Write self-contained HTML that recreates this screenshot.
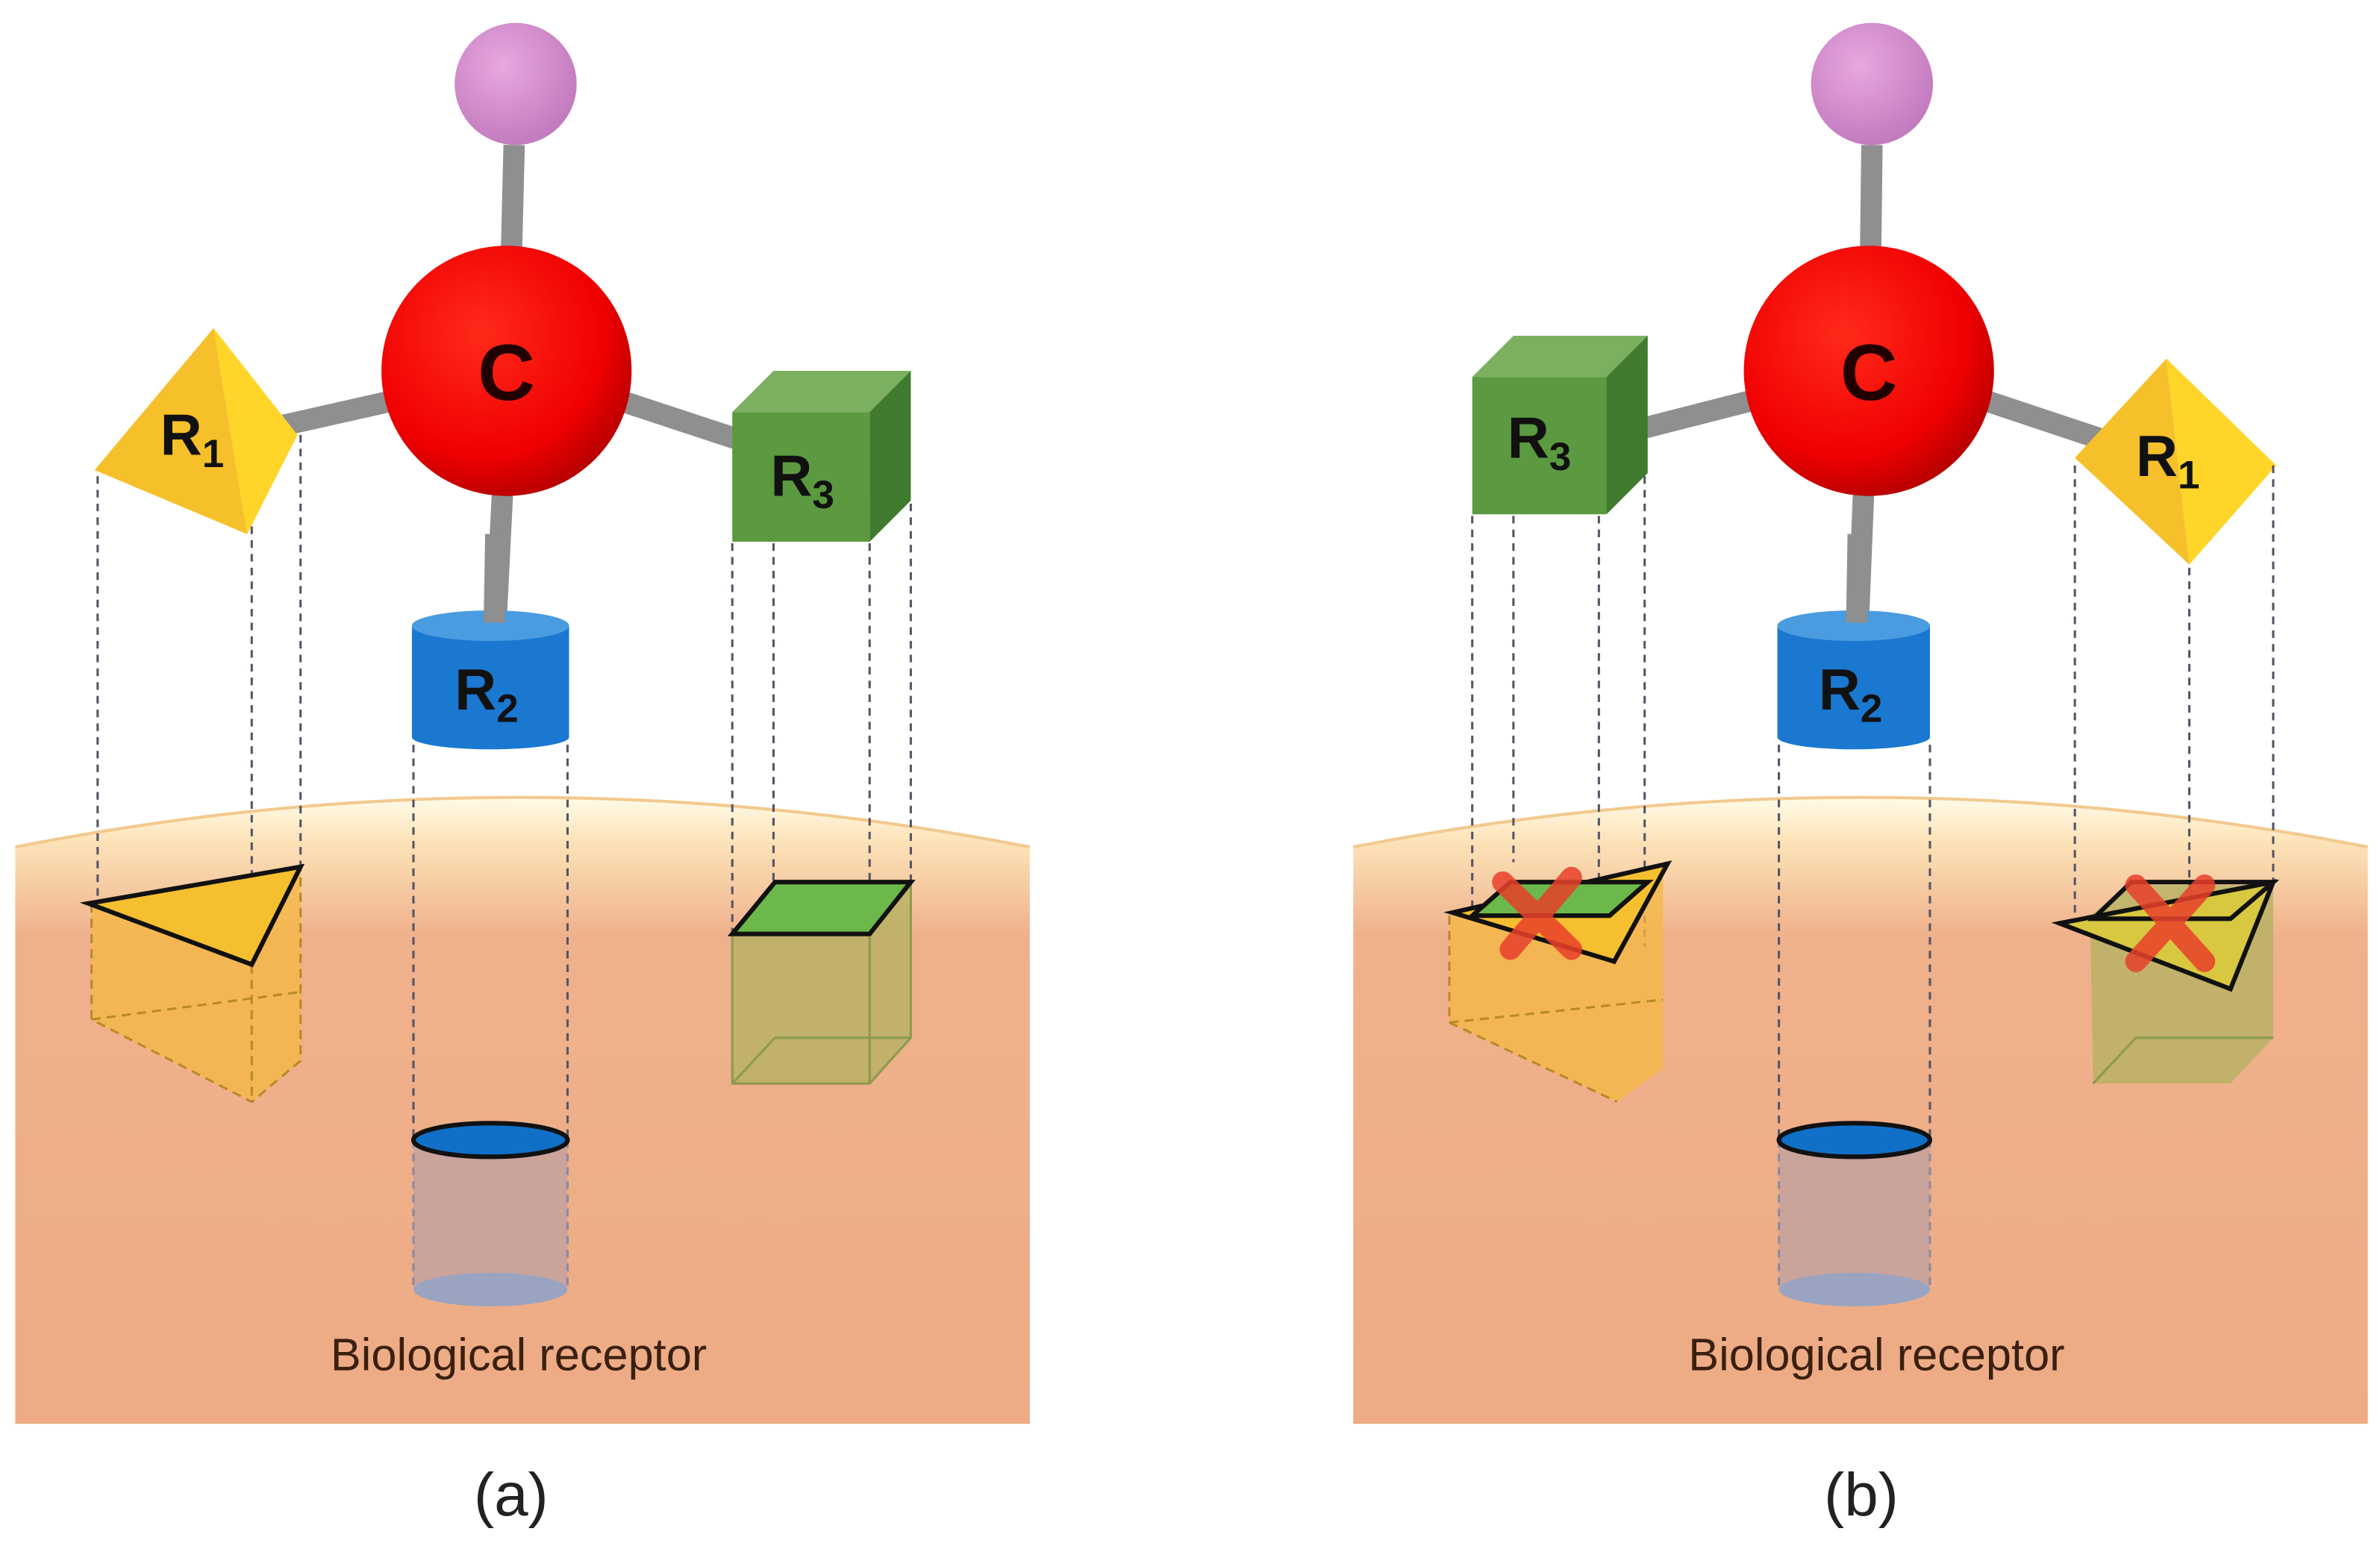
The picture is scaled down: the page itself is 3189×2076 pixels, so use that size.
<!DOCTYPE html>
<html><head><meta charset="utf-8"><style>
html,body{margin:0;padding:0;background:#fff}
svg{display:block}
text{font-family:"Liberation Sans",sans-serif}
</style></head><body>
<svg width="3189" height="2076" viewBox="0 0 1560 1015" preserveAspectRatio="none">
<defs>
<linearGradient id="rec" x1="0" y1="0" x2="0" y2="1">
<stop offset="0" stop-color="#fffbe8"/><stop offset="0.07" stop-color="#fde3b8"/><stop offset="0.22" stop-color="#efb18c"/><stop offset="1" stop-color="#eeab85"/></linearGradient>
<radialGradient id="cb" cx="0.4" cy="0.35" r="0.7"><stop offset="0" stop-color="#ff2a1a"/><stop offset="0.7" stop-color="#f00000"/><stop offset="1" stop-color="#b00000"/></radialGradient>
<radialGradient id="pb" cx="0.4" cy="0.35" r="0.7"><stop offset="0" stop-color="#e8a8e0"/><stop offset="1" stop-color="#c078bc"/></radialGradient>
</defs>

<!-- PANEL A -->
<path d="M10,555 Q340,490 675,555 L675,933 L10,933 Z" fill="url(#rec)"/>
<path d="M10,555 Q340,490 675,555" fill="none" stroke="#f3c98e" stroke-width="2"/>
<g stroke="#8f8f8f" stroke-width="14">
<line x1="337" y1="95" x2="335" y2="175"/>
<line x1="180" y1="280" x2="260" y2="262"/>
<line x1="405" y1="262" x2="490" y2="290"/>
<line x1="330" y1="310" x2="325" y2="410"/>
</g>
<circle cx="338" cy="55" r="40" fill="url(#pb)"/>
<circle cx="332" cy="243" r="82" fill="url(#cb)"/>
<text x="332" y="262" font-size="52" text-anchor="middle" fill="#200" font-weight="bold">C</text>
<polygon points="62,308 140,215 162,350" fill="#f6c02a"/>
<polygon points="140,215 195,285 162,350" fill="#ffd52a"/>
<text x="105" y="298" font-size="38" fill="#111" font-weight="bold">R<tspan font-size="26" dy="8">1</tspan></text>
<polygon points="480,270 507,243 597,243 570,270" fill="#7ab060"/>
<polygon points="570,270 597,243 597,328 570,355" fill="#3f7a2e"/>
<rect x="480" y="270" width="90" height="85" fill="#5b9a40"/>
<text x="505" y="325" font-size="38" fill="#111" font-weight="bold">R<tspan font-size="26" dy="8">3</tspan></text>
<rect x="270" y="410" width="103" height="73" fill="#1a78d0"/>
<ellipse cx="321.5" cy="483" rx="51.5" ry="8" fill="#1a78d0"/>
<ellipse cx="321.5" cy="410" rx="51.5" ry="10" fill="#4a9be0"/>
<line x1="325" y1="350" x2="324" y2="408" stroke="#8f8f8f" stroke-width="14"/>
<text x="298" y="465" font-size="38" fill="#111" font-weight="bold">R<tspan font-size="26" dy="8">2</tspan></text>
<g stroke="#556" stroke-width="1.5" stroke-dasharray="5,4" fill="none">
<line x1="64" y1="312" x2="64" y2="592"/><line x1="165" y1="345" x2="165" y2="632"/><line x1="197" y1="285" x2="197" y2="568"/>
<line x1="271" y1="488" x2="271" y2="747"/><line x1="372" y1="488" x2="372" y2="747"/>
<line x1="480" y1="356" x2="480" y2="612"/><line x1="507" y1="356" x2="507" y2="578"/><line x1="570" y1="356" x2="570" y2="612"/><line x1="597" y1="330" x2="597" y2="578"/>
</g>
<polygon points="60,592 197,568 197,695 165,722 60,668" fill="#f5b840" opacity="0.75"/>
<g stroke="#b8892a" stroke-width="1.5" stroke-dasharray="6,4" fill="none">
<polyline points="60,592 60,668 165,722 197,695 197,568"/><line x1="165" y1="632" x2="165" y2="722"/><line x1="60" y1="668" x2="197" y2="650"/>
</g>
<polygon points="58,592 197,568 165,632" fill="#f6bf30" stroke="#111" stroke-width="3"/>
<polygon points="480,612 508,578 597,578 597,680 570,710 480,710" fill="#b5b262" opacity="0.8"/>
<g stroke="#8c9a50" stroke-width="1.5" fill="none">
<polyline points="480,612 480,710 570,710 597,680 597,578"/><polyline points="480,710 508,680 597,680"/><line x1="570" y1="612" x2="570" y2="710"/>
</g>
<polygon points="480,612 508,578 597,578 570,612" fill="#6cb84a" stroke="#111" stroke-width="3"/>
<rect x="271" y="747" width="101" height="98" fill="#c0a0a0" opacity="0.8"/>
<ellipse cx="321.5" cy="845" rx="50.5" ry="11" fill="#9aa4c0"/>
<g stroke="#8a8aa0" stroke-width="1.5" stroke-dasharray="5,4" fill="none"><line x1="271" y1="747" x2="271" y2="845"/><line x1="372" y1="747" x2="372" y2="845"/></g>
<ellipse cx="321.5" cy="747" rx="50.5" ry="11" fill="#1070c8" stroke="#111" stroke-width="3"/>
<text x="340" y="898" font-size="30" text-anchor="middle" fill="#3a2010">Biological receptor</text>
<text x="335" y="993" font-size="40" text-anchor="middle" fill="#222">(a)</text>

<!-- PANEL B -->
<path d="M887,555 Q1220,490 1552,555 L1552,933 L887,933 Z" fill="url(#rec)"/>
<path d="M887,555 Q1220,490 1552,555" fill="none" stroke="#f3c98e" stroke-width="2"/>
<g stroke="#8f8f8f" stroke-width="14">
<line x1="1227" y1="95" x2="1226" y2="175"/>
<line x1="1060" y1="285" x2="1150" y2="262"/>
<line x1="1300" y1="262" x2="1390" y2="292"/>
<line x1="1222" y1="310" x2="1218" y2="410"/>
</g>
<circle cx="1227" cy="55" r="40" fill="url(#pb)"/>
<circle cx="1225" cy="243" r="82" fill="url(#cb)"/>
<text x="1225" y="262" font-size="52" text-anchor="middle" fill="#200" font-weight="bold">C</text>
<polygon points="965,247 992,220 1080,220 1053,247" fill="#7ab060"/>
<polygon points="1053,247 1080,220 1080,310 1053,337" fill="#3f7a2e"/>
<rect x="965" y="247" width="88" height="90" fill="#5b9a40"/>
<text x="988" y="300" font-size="38" fill="#111" font-weight="bold">R<tspan font-size="26" dy="8">3</tspan></text>
<polygon points="1360,300 1420,235 1435,370" fill="#f6c02a"/>
<polygon points="1420,235 1492,305 1435,370" fill="#ffd52a"/>
<text x="1400" y="312" font-size="38" fill="#111" font-weight="bold">R<tspan font-size="26" dy="8">1</tspan></text>
<rect x="1165" y="410" width="100" height="73" fill="#1a78d0"/>
<ellipse cx="1215" cy="483" rx="50" ry="8" fill="#1a78d0"/>
<ellipse cx="1215" cy="410" rx="50" ry="10" fill="#4a9be0"/>
<line x1="1218" y1="350" x2="1217" y2="408" stroke="#8f8f8f" stroke-width="14"/>
<text x="1192" y="465" font-size="38" fill="#111" font-weight="bold">R<tspan font-size="26" dy="8">2</tspan></text>
<g stroke="#556" stroke-width="1.5" stroke-dasharray="5,4" fill="none">
<line x1="965" y1="338" x2="965" y2="600"/><line x1="992" y1="338" x2="992" y2="565"/><line x1="1048" y1="338" x2="1048" y2="610"/><line x1="1078" y1="312" x2="1078" y2="620"/>
<line x1="1166" y1="488" x2="1166" y2="747"/><line x1="1265" y1="488" x2="1265" y2="747"/>
<line x1="1360" y1="305" x2="1360" y2="600"/><line x1="1435" y1="372" x2="1435" y2="640"/><line x1="1490" y1="305" x2="1490" y2="580"/>
</g>
<polygon points="950,600 1090,568 1090,700 1060,722 950,670" fill="#f5b840" opacity="0.75"/>
<g stroke="#b8892a" stroke-width="1.5" stroke-dasharray="6,4" fill="none"><polyline points="950,600 950,670 1060,722"/><line x1="950" y1="670" x2="1090" y2="655"/></g>
<polygon points="952,598 1093,566 1058,630" fill="#f6bf30" stroke="#111" stroke-width="3"/>
<polygon points="965,600 990,578 1080,578 1055,600" fill="#6cb84a" stroke="#111" stroke-width="3"/>
<g stroke="#e8402a" stroke-width="14" opacity="0.85" stroke-linecap="round"><line x1="985" y1="578" x2="1030" y2="622"/><line x1="1030" y1="575" x2="990" y2="622"/></g>
<polygon points="1370,600 1395,580 1490,580 1490,680 1462,710 1372,710" fill="#b5b262" opacity="0.8"/>
<g stroke="#8c9a50" stroke-width="1.5" fill="none"><polyline points="1372,710 1400,680 1490,680"/></g>
<polygon points="1350,605 1490,578 1462,648" fill="#d8c840" stroke="#111" stroke-width="3"/>
<polygon points="1372,602 1397,578 1490,578 1462,602" fill="none" stroke="#111" stroke-width="3"/>
<g stroke="#e8402a" stroke-width="14" opacity="0.85" stroke-linecap="round"><line x1="1400" y1="580" x2="1445" y2="630"/><line x1="1445" y1="580" x2="1400" y2="630"/></g>
<rect x="1166" y="747" width="99" height="98" fill="#c0a0a0" opacity="0.8"/>
<ellipse cx="1215.5" cy="845" rx="49.5" ry="11" fill="#9aa4c0"/>
<g stroke="#8a8aa0" stroke-width="1.5" stroke-dasharray="5,4" fill="none"><line x1="1166" y1="747" x2="1166" y2="845"/><line x1="1265" y1="747" x2="1265" y2="845"/></g>
<ellipse cx="1215.5" cy="747" rx="49.5" ry="11" fill="#1070c8" stroke="#111" stroke-width="3"/>
<text x="1230" y="898" font-size="30" text-anchor="middle" fill="#3a2010">Biological receptor</text>
<text x="1220" y="993" font-size="40" text-anchor="middle" fill="#222">(b)</text>
</svg>
</body></html>
